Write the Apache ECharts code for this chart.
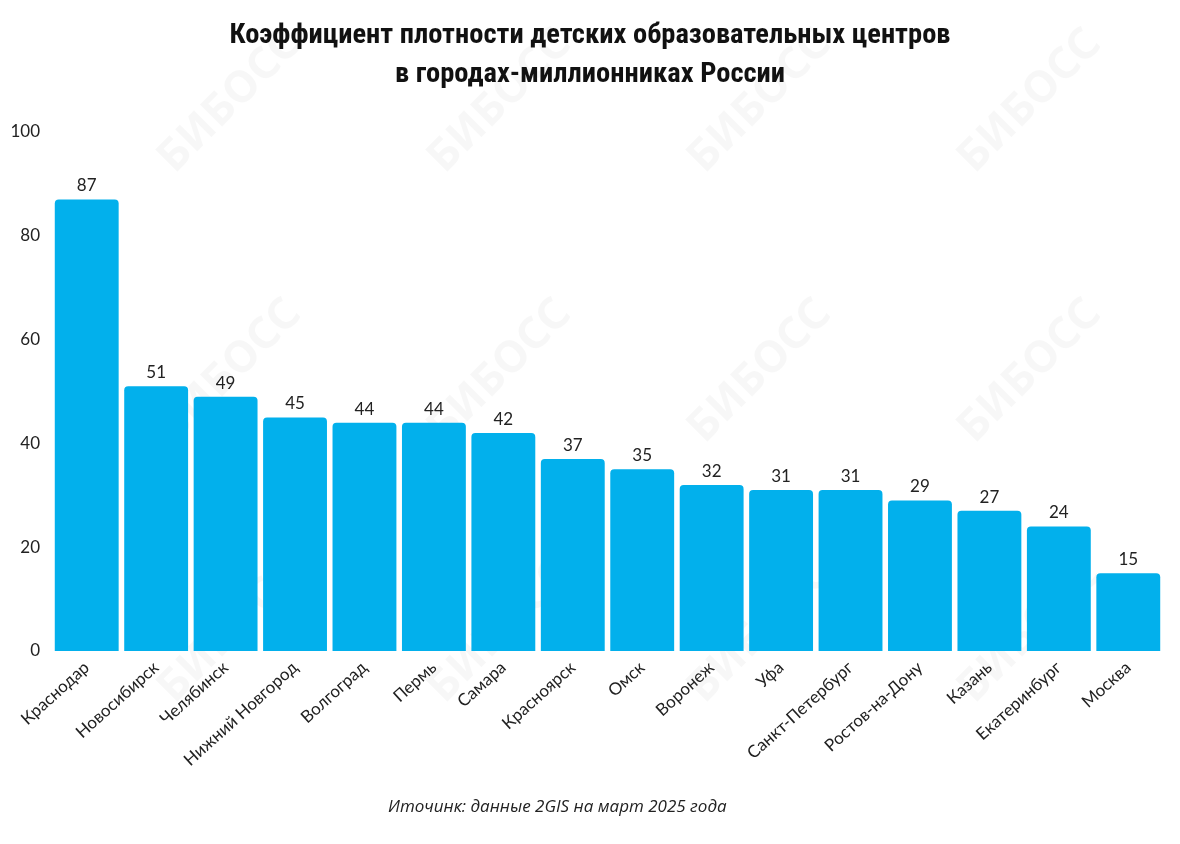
<!DOCTYPE html>
<html>
<head>
<meta charset="utf-8">
<script src="https://cdn.jsdelivr.net/npm/echarts@6/dist/echarts.min.js"></script>
<style>
html,body{margin:0;padding:0;background:#fff;}
#chart{width:1180px;height:844px;}
</style>
</head>
<body>
<div id="chart"></div>
<script>
const titleLines = ['Коэффициент плотности детских образовательных центров', 'в городах-миллионниках России'];
const sourceText = 'Иточинк: данные 2GIS на март 2025 года';
const categories = ['Краснодар','Новосибирск','Челябинск','Нижний Новгород','Волгоград','Пермь','Самара','Красноярск','Омск','Воронеж','Уфа','Санкт-Петербург','Ростов-на-Дону','Казань','Екатеринбург','Москва'];
const values = [87,51,49,45,44,44,42,37,35,32,31,31,29,27,24,15];
const yTicks = {min:0, max:100, interval:20};

const chart = echarts.init(document.getElementById('chart'));
const wm = [];
const wmPos = [[150,60],[420,60],[680,60],[950,60],[150,330],[420,330],[680,330],[950,330],[150,590],[420,590],[680,590],[950,590]];
wmPos.forEach(p => {
  wm.push({type:'text', x:p[0], y:p[1]+90, rotation:Math.PI/4, z:0,
    style:{text:'БИБОСС', fill:'rgba(0,0,0,0.03)', font:'bold 44px "Noto Sans"'}});
});
chart.setOption({
  backgroundColor:'#fff',
  title:{
    text: titleLines.join('\n'),
    left:'center', top:11,
    textStyle:{fontFamily:'"Liberation Sans Narrow","Roboto Condensed","Noto Sans"', fontWeight:'bold', fontSize:28.5, lineHeight:39, color:'#111'}
  },
  graphic: wm.concat([{type:'text', left:388, top:799,
    style:{text:sourceText, fill:'#222', font:'italic 17px "Open Sans"'}}]),
  grid:{left:52, right:17, top:132, bottom:193, containLabel:false},
  xAxis:{
    type:'category', data:categories,
    axisLine:{show:false}, axisTick:{show:false},
    axisLabel:{rotate:42, interval:0, fontSize:17, color:'#222', fontFamily:'Lato', margin:14}
  },
  yAxis:{
    type:'value', min:yTicks.min, max:yTicks.max, interval:yTicks.interval,
    splitLine:{show:false}, axisLine:{show:false}, axisTick:{show:false},
    axisLabel:{fontSize:17, color:'#222', fontFamily:'Lato', margin:12}
  },
  series:[{
    type:'bar', data:values, barCategoryGap:'8%',
    itemStyle:{color:'#02b0ec', borderRadius:[4,4,0,0]},
    label:{show:true, position:'top', fontSize:17, color:'#222', fontFamily:'Lato', distance:5}
  }]
});
</script>
</body>
</html>
